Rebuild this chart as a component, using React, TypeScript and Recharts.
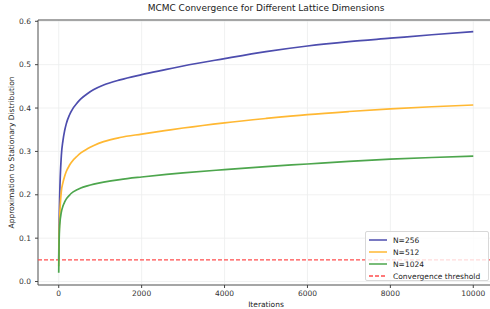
import { LineChart, Line, XAxis, YAxis, CartesianGrid, ReferenceLine, ReferenceArea } from 'recharts';

// iteration positions the curves were read at
const iterations = [0, 8, 24, 63, 102, 141, 180, 259, 298, 455, 533, 690, 847, 1082, 1475, 2000, 2600, 3000, 4000, 5000, 6000, 7000, 8000, 9000, 10000];

const n256 = [0.05, 0.12, 0.2, 0.29, 0.325, 0.347, 0.363, 0.384, 0.392, 0.413, 0.421, 0.433, 0.4425, 0.453, 0.465, 0.477, 0.489, 0.497, 0.514, 0.530, 0.543, 0.553, 0.561, 0.569, 0.576];
const n512 = [0.035, 0.1, 0.15, 0.208, 0.228, 0.242, 0.253, 0.268, 0.274, 0.29, 0.2965, 0.306, 0.3135, 0.3225, 0.332, 0.340, 0.3485, 0.354, 0.366, 0.376, 0.385, 0.392, 0.398, 0.403, 0.407];
const n1024 = [0.02, 0.085, 0.13, 0.16, 0.174, 0.183, 0.19, 0.199, 0.203, 0.212, 0.2155, 0.2205, 0.2245, 0.229, 0.235, 0.241, 0.247, 0.2505, 0.258, 0.265, 0.271, 0.277, 0.282, 0.286, 0.289];

const threshold = 0.05;
const xTicks = [0, 2000, 4000, 6000, 8000, 10000];
const yTicks = [0, 0.1, 0.2, 0.3, 0.4, 0.5, 0.6];

const seriesNames = ['N=256', 'N=512', 'N=1024'];
const colors = ['#4D4DAE', '#FFB833', '#4DA64D'];
const thresholdName = 'Convergence threshold';

const data = iterations.map((it, i) => ({ it, n256: n256[i], n512: n512[i], n1024: n1024[i] }));

const font = '"DejaVu Sans", sans-serif';
const tickStyle = { fontSize: 7.5, fill: '#333', fontFamily: font };

const XLabel = ({ viewBox }: any) => (
  <text x={viewBox.x + viewBox.width / 2} y={307} textAnchor="middle" fontSize={7.5} fontFamily={font} fill="#222">
    Iterations
  </text>
);

const YLabel = ({ viewBox }: any) => {
  const cy = viewBox.y + viewBox.height / 2;
  return (
    <text x={12} y={cy} transform={`rotate(-90 12 ${cy})`} textAnchor="middle" dominantBaseline="middle" fontSize={7.5} fontFamily={font} fill="#222">
      Approximation to Stationary Distribution
    </text>
  );
};

function LegendBox() {
  const rows = [
    ...seriesNames.map((n, i) => ({ n, c: colors[i], dash: false })),
    { n: thresholdName, c: '#FF4D4D', dash: true },
  ];
  return (
    <div style={{
      position: 'absolute', left: 365, top: 231, width: 124, height: 50,
      background: 'rgba(255,255,255,0.8)', border: '1px solid #d8d8d8', borderRadius: 2,
      boxSizing: 'border-box', fontFamily: font, fontSize: 7.5, color: '#222',
    }}>
      {rows.map((r, i) => (
        <div key={r.n} style={{ position: 'absolute', left: 2, top: 2 + i * 12, height: 12, display: 'flex', alignItems: 'center' }}>
          <svg width={20} height={4} style={{ marginRight: 5 }}>
            <line x1={1} y1={2} x2={19} y2={2} stroke={r.c} strokeWidth={1.5} strokeDasharray={r.dash ? '4 2' : undefined} />
          </svg>
          <span style={{ whiteSpace: 'nowrap' }}>{r.n}</span>
        </div>
      ))}
    </div>
  );
}

export default function App() {
  return (
    <div style={{ position: 'fixed', left: 0, top: 0, width: 490, height: 309, overflow: 'hidden', background: '#fff' }}>
      <div style={{
        position: 'absolute', left: 0, top: 3, width: 532, textAlign: 'center',
        fontFamily: font, fontSize: 9, color: '#222',
      }}>
        MCMC Convergence for Different Lattice Dimensions
      </div>
      <LineChart width={500} height={309} data={data} margin={{ top: 20, right: 6, bottom: 0, left: 0 }}>
        <CartesianGrid stroke="#eceeee" strokeWidth={0.8} />
        <XAxis
          dataKey="it" type="number" domain={[-500, 10500]} ticks={xTicks} height={24}
          tick={tickStyle} tickSize={3} tickMargin={3} stroke="#444" axisLine={false}
          label={<XLabel />}
        />
        <YAxis
          type="number" domain={[-0.008, 0.603]} ticks={yTicks} width={38}
          tick={tickStyle} tickSize={3} tickMargin={4} stroke="#444" axisLine={false}
          tickFormatter={(v: number) => v.toFixed(1)}
          label={<YLabel />}
        />
        <ReferenceLine y={threshold} stroke="#FF4D4D" strokeWidth={1.3} strokeDasharray="4 2" />
        <Line type="monotone" dataKey="n256" stroke={colors[0]} strokeWidth={1.7} dot={false} isAnimationActive={false} />
        <Line type="monotone" dataKey="n512" stroke={colors[1]} strokeWidth={1.7} dot={false} isAnimationActive={false} />
        <Line type="monotone" dataKey="n1024" stroke={colors[2]} strokeWidth={1.7} dot={false} isAnimationActive={false} />
        <ReferenceArea x1={-500} x2={10500} y1={-0.008} y2={0.603} stroke="#555" strokeWidth={1} fill="none" fillOpacity={0} />
      </LineChart>
      <LegendBox />
    </div>
  );
}
